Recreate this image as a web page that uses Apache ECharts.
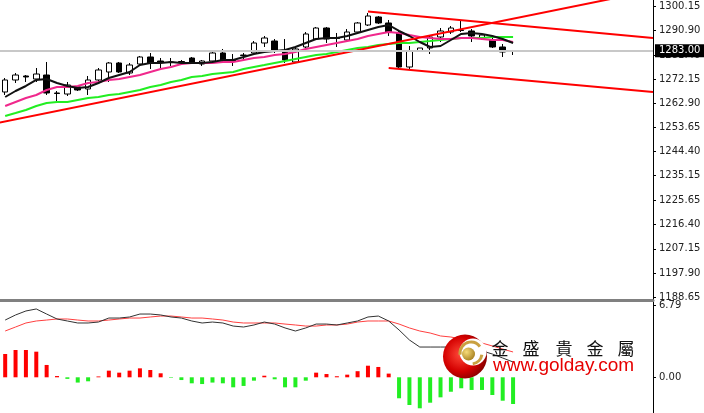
<!DOCTYPE html>
<html><head><meta charset="utf-8">
<script src="https://cdn.jsdelivr.net/npm/echarts@6/dist/echarts.min.js"></script>
<style>html,body{margin:0;padding:0;background:#fff}#c{width:704px;height:413px}</style>
</head><body><div id="c"></div>
<script>
// ---- data ----
const BAR_COUNT = 50, EMPTY_SLOTS = 13;
const categories = Array.from({length: BAR_COUNT + EMPTY_SLOTS}, (_, i) => 'K' + (i + 1));
const openP  = [1267.21,1271.81,1273.34,1272.19,1273.72,1266.83,1266.44,1269.12,1268.36,1271.81,1274.87,1278.32,1274.49,1277.93,1280.62,1279.08,1278.70,1278.70,1280.23,1277.93,1279.08,1282.15,1279.47,1281.38,1282.15,1285.98,1286.74,1282.53,1278.70,1284.45,1287.51,1291.72,1287.89,1287.13,1290.19,1292.87,1295.94,1293.64,1289.81,1276.79,1282.91,1284.06,1288.28,1290.19,1290.96,1290.58,1287.89,1287.13,1284.45,1283.10];
const closeP = [1271.81,1273.72,1272.96,1274.10,1266.83,1266.63,1269.89,1267.98,1271.81,1275.64,1278.32,1274.87,1277.55,1280.62,1278.32,1278.70,1278.51,1278.89,1278.32,1279.08,1282.15,1279.47,1279.08,1281.19,1285.98,1287.89,1283.30,1279.47,1283.68,1289.43,1291.72,1287.51,1287.70,1290.19,1293.64,1296.32,1293.64,1290.19,1276.79,1282.91,1284.06,1288.28,1290.58,1291.72,1290.77,1288.66,1289.04,1284.45,1282.53,1283.00];
const lowP   = [1266.06,1270.66,1271.04,1271.04,1266.06,1263.76,1265.68,1267.59,1266.06,1271.04,1271.04,1274.49,1273.72,1277.55,1276.02,1276.40,1277.17,1277.93,1277.93,1277.17,1278.70,1278.32,1277.17,1279.85,1281.76,1284.45,1282.15,1278.32,1278.32,1284.06,1287.13,1285.98,1284.45,1286.74,1289.81,1292.49,1293.26,1288.66,1276.02,1276.02,1282.91,1281.76,1286.36,1289.43,1290.19,1286.36,1287.13,1284.06,1280.62,1281.38];
const highP  = [1272.57,1274.49,1273.72,1276.40,1278.70,1267.59,1271.04,1269.51,1273.34,1276.40,1278.70,1278.70,1278.32,1281.00,1282.15,1280.23,1280.23,1279.47,1280.62,1279.47,1282.91,1283.68,1281.76,1282.15,1286.74,1288.66,1287.51,1287.51,1284.45,1290.19,1292.11,1292.11,1289.81,1291.34,1294.02,1297.47,1296.32,1294.79,1290.58,1284.83,1284.06,1289.04,1291.72,1292.49,1294.79,1291.34,1289.43,1287.89,1285.60,1283.30];
const maFast = [1265.29,1267.59,1269.51,1271.81,1272.19,1270.66,1269.51,1268.74,1269.12,1270.66,1272.57,1273.72,1274.87,1277.55,1278.32,1278.32,1278.70,1278.32,1278.32,1278.32,1278.70,1279.47,1279.47,1280.62,1281.76,1282.53,1282.91,1283.30,1284.45,1285.98,1287.51,1287.89,1287.89,1288.66,1289.81,1290.96,1292.11,1292.87,1290.58,1288.66,1286.36,1284.45,1284.83,1287.13,1289.43,1289.81,1289.43,1288.66,1287.51,1285.98];
const maMid  = [1261.85,1263.38,1264.91,1266.06,1267.98,1269.12,1269.12,1269.51,1270.66,1271.04,1271.81,1272.19,1272.96,1273.72,1274.87,1276.02,1276.79,1277.93,1278.32,1278.32,1278.32,1278.70,1278.70,1279.47,1280.23,1280.62,1281.38,1281.76,1282.53,1283.68,1284.45,1285.21,1285.98,1286.74,1287.51,1288.66,1289.43,1290.19,1289.81,1289.04,1288.28,1287.89,1287.51,1287.51,1287.89,1287.89,1287.51,1287.13,1287.13,1286.36];
const maSlow = [1258.02,1259.16,1260.31,1261.85,1262.99,1263.38,1263.38,1264.14,1264.91,1265.29,1266.06,1266.44,1267.21,1267.98,1269.12,1269.89,1271.04,1271.81,1272.96,1273.34,1274.10,1274.49,1274.87,1276.02,1276.79,1277.55,1278.32,1279.08,1279.85,1280.62,1281.38,1281.76,1282.53,1283.30,1284.06,1284.45,1285.21,1285.60,1285.98,1285.98,1286.36,1286.74,1287.13,1287.51,1287.89,1287.89,1287.89,1288.28,1288.28,1288.28];
const trendUp       = [[-1, 1255.13], [60, 1304.12]];
const channelTop    = [[35, 1298.05], [62.5, 1287.89]];
const channelBottom = [[37, 1276.40], [62.5, 1267.21]];
const lastPrice = 1283.00;
const priceTicks = [1300.15,1290.90,1281.40,1272.15,1262.90,1253.65,1244.40,1235.15,1225.65,1216.40,1207.15,1197.90,1188.65];
const oscMain   = [5.43,5.91,6.29,6.48,6.00,5.53,5.34,5.15,5.15,5.24,5.62,5.62,5.72,6.00,6.00,5.91,5.72,5.62,5.34,5.15,5.24,5.15,4.86,4.77,4.96,5.24,5.05,4.68,4.39,4.68,5.05,5.05,4.96,5.15,5.34,5.72,5.81,5.34,4.49,3.54,2.87,2.87,2.87,2.87,2.87,2.78,2.50,2.21,1.83,1.45];
const oscSignal = [4.39,4.77,5.15,5.34,5.43,5.53,5.53,5.43,5.34,5.34,5.43,5.53,5.62,5.62,5.72,5.81,5.81,5.72,5.62,5.62,5.53,5.43,5.24,5.15,5.15,5.15,5.15,5.05,4.96,4.86,4.86,4.96,4.96,5.05,5.24,5.34,5.34,5.34,5.05,4.68,4.39,4.20,3.92,3.82,3.63,3.44,3.25,2.97,2.68,2.40];
const oscHist   = [2.21,2.59,2.59,2.43,1.17,0.12,-0.15,-0.50,-0.38,0.08,0.63,0.44,0.63,0.85,0.69,0.38,-0.05,-0.26,-0.57,-0.64,-0.50,-0.57,-0.95,-0.82,-0.32,0.15,-0.19,-0.95,-0.95,-0.32,0.44,0.31,0.10,0.25,0.58,1.10,0.98,0.35,-1.99,-2.63,-2.94,-2.41,-1.90,-1.37,-1.04,-1.20,-1.20,-1.68,-2.22,-2.53];
const oscTicks = [6.79, 0.00];
const brandChars = ['金','盛','貴','金','屬'];
const brandUrl = 'www.golday.com';

// ---- chart ----
const candles = openP.map((o, i) => [o, closeP[i], lowP[i], highP[i]]);
const labelFont = 'DejaVu Sans';
const chart = echarts.init(document.getElementById('c'), null, {renderer: 'canvas'});
const charX = [500, 531, 564, 595, 626];
const graphics = [
  {type:'circle', z:100, shape:{cx:465, cy:356.5, r:22},
   style:{fill:new echarts.graphic.RadialGradient(0.4,0.45,0.65,[{offset:0,color:'#ff4a3a'},{offset:0.6,color:'#d40000'},{offset:1,color:'#7a0000'}])}},
  {type:'circle', z:101, shape:{cx:473, cy:352, r:13.5}, style:{fill:'#fff'}},
  {type:'arc', z:102, shape:{cx:471, cy:353, r:11, startAngle:Math.PI*0.95, endAngle:Math.PI*1.8}, style:{stroke:'#c9a040', lineWidth:3, fill:null}},
  {type:'arc', z:102, shape:{cx:471, cy:353, r:11, startAngle:Math.PI*0.05, endAngle:Math.PI*0.45}, style:{stroke:'#c9a040', lineWidth:3, fill:null}},
  {type:'circle', z:103, shape:{cx:468.5, cy:354, r:6.5},
   style:{fill:new echarts.graphic.RadialGradient(0.35,0.35,0.8,[{offset:0,color:'#f7dc7a'},{offset:1,color:'#9c7414'}])}},
  ...brandChars.map((ch, i) => ({type:'text', z:104, x:charX[i], y:348.5,
     style:{text:ch, font:'17px "Noto Sans CJK TC"', fill:'#111', align:'center', verticalAlign:'middle'}})),
  {type:'text', z:104, x:493, y:366, style:{text:brandUrl, font:'19px "Liberation Sans"', fill:'#e60000', align:'left', verticalAlign:'middle'}}
];

const option = {
  animation: false,
  backgroundColor: '#fff',
  grid: [
    {left:-1, right:51, top:0, height:300},
    {left:-1, right:51, top:301, height:112}
  ],
  xAxis: [
    {type:'category', gridIndex:0, data:categories, boundaryGap:true, position:'bottom',
     axisLine:{show:true, onZero:false, lineStyle:{color:'#808080', width:3}}, axisTick:{show:false}, axisLabel:{show:false}, splitLine:{show:false}},
    {type:'value', gridIndex:0, position:'top', min:-0.5, max:BAR_COUNT + EMPTY_SLOTS - 0.5, show:false,
     axisLine:{show:false, onZero:false}, axisTick:{show:false}, axisLabel:{show:false}, splitLine:{show:false}},
    {type:'category', gridIndex:1, data:categories, boundaryGap:true, show:false, axisLine:{onZero:false}}
  ],
  yAxis: [
    {type:'value', gridIndex:0, position:'right', min:1187.53, max:1302.45,
     splitLine:{show:false},
     axisLine:{show:true, onZero:false, lineStyle:{color:'#000', width:1}},
     axisTick:{show:true, customValues:priceTicks, length:3, lineStyle:{color:'#000'}},
     axisLabel:{show:true, customValues:priceTicks, formatter:v => Number(v).toFixed(2), color:'#222', fontFamily:labelFont, fontSize:10, margin:6}},
    {type:'value', gridIndex:1, position:'right', min:-3.386, max:7.236,
     splitLine:{show:false},
     axisLine:{show:true, onZero:false, lineStyle:{color:'#000', width:1}},
     axisTick:{show:true, customValues:oscTicks, length:3, lineStyle:{color:'#000'}},
     axisLabel:{show:true, customValues:oscTicks, formatter:v => Number(v).toFixed(2), color:'#222', fontFamily:labelFont, fontSize:10, margin:6}}
  ],
  series: [
    {type:'candlestick', xAxisIndex:0, yAxisIndex:0, data:candles, barWidth:6,
     itemStyle:{color:'#fff', color0:'#000', borderColor:'#000', borderColor0:'#000', borderColorDoji:'#000', borderWidth:1},
     markLine:{silent:true, symbol:'none', animation:false,
       lineStyle:{color:'#c8c8c8', width:2, type:'solid'},
       label:{show:true, position:'end', formatter:lastPrice.toFixed(2), color:'#fff', backgroundColor:'#000',
              padding:[2,4,1,4], fontFamily:labelFont, fontSize:10, distance:2},
       data:[{yAxis:lastPrice}]}},
    {type:'line', xAxisIndex:0, yAxisIndex:0, data:maSlow, symbol:'none', lineStyle:{color:'#22ee22', width:2}},
    {type:'line', xAxisIndex:0, yAxisIndex:0, data:maMid, symbol:'none', lineStyle:{color:'#f0288c', width:2}},
    {type:'line', xAxisIndex:0, yAxisIndex:0, data:maFast, symbol:'none', lineStyle:{color:'#111', width:2}},
    {type:'line', xAxisIndex:1, yAxisIndex:0, data:trendUp, symbol:'none', lineStyle:{color:'#ff0000', width:2}},
    {type:'line', xAxisIndex:1, yAxisIndex:0, data:channelTop, symbol:'none', lineStyle:{color:'#ff0000', width:2}},
    {type:'line', xAxisIndex:1, yAxisIndex:0, data:channelBottom, symbol:'none', lineStyle:{color:'#ff0000', width:2}},
    {type:'bar', xAxisIndex:2, yAxisIndex:1, data:oscHist, barWidth:4,
     itemStyle:{color:p => p.value >= 0 ? '#ff0000' : '#22ee22'}},
    {type:'line', xAxisIndex:2, yAxisIndex:1, data:oscSignal, symbol:'none', lineStyle:{color:'#ff4040', width:1}},
    {type:'line', xAxisIndex:2, yAxisIndex:1, data:oscMain, symbol:'none', lineStyle:{color:'#333', width:1}}
  ],
  graphic: graphics
};
chart.setOption(option);
</script>
</body></html>
